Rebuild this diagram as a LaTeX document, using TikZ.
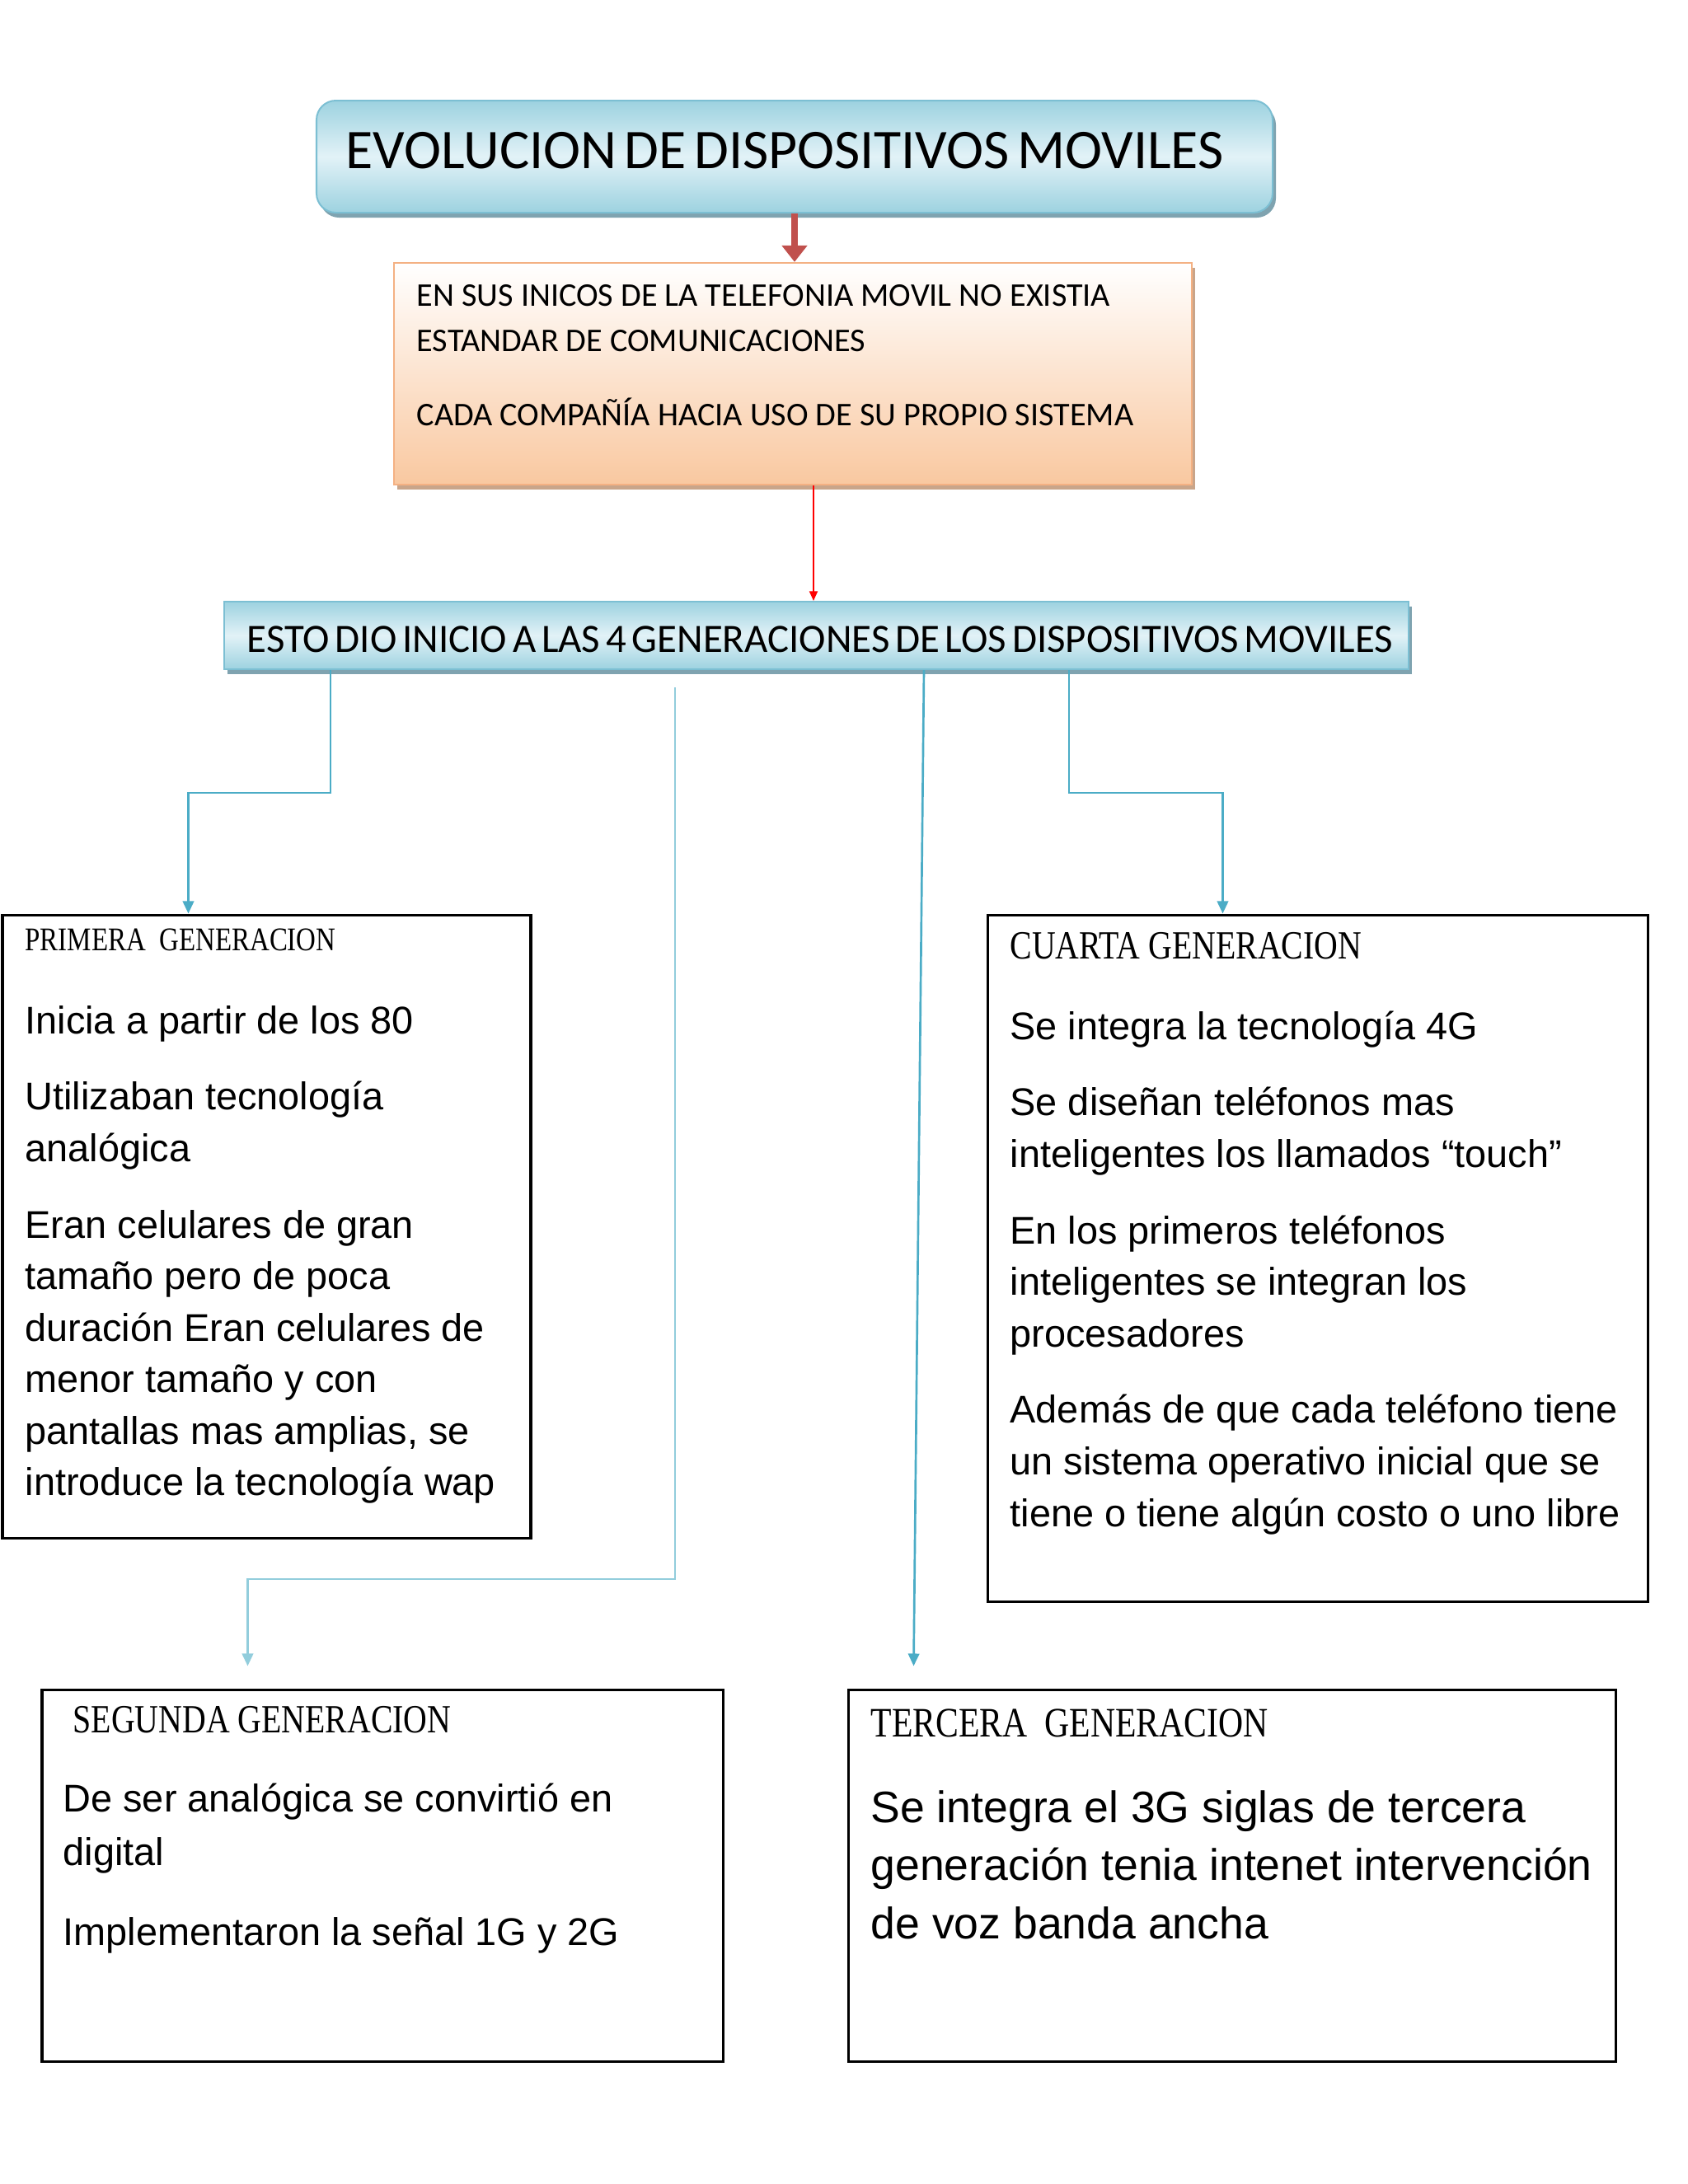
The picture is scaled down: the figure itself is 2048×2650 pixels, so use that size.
\documentclass[tikz,border=0pt]{standalone}
\usepackage{fontspec}
\setmainfont{Liberation Sans}
\newfontfamily\calfont{Carlito}
\newfontfamily\headfont[FakeStretch=0.82]{Liberation Serif}
\usetikzlibrary{shapes,arrows.meta,positioning,fit,calc,shadows}

\definecolor{titleblue}{HTML}{9DD2E0}
\definecolor{paleblue}{HTML}{E2F2F7}
\definecolor{edgeblue}{HTML}{7CBFD3}
\definecolor{shadeblue}{HTML}{7FA3B0}
\definecolor{peach}{HTML}{F9C8A0}
\definecolor{peachedge}{HTML}{F4B183}
\definecolor{shadepeach}{HTML}{C9A58A}
\definecolor{darkred}{HTML}{C0504D}
\definecolor{linkblue}{HTML}{4BACC6}
\definecolor{lightlink}{HTML}{92CDDC}

\begin{document}
\begin{tikzpicture}[x=0.2988pt, y=-0.2988pt,
    bluebox/.style={draw=edgeblue, line width=0.6pt, inner sep=0pt, top color=titleblue, bottom color=titleblue, middle color=paleblue,
      drop shadow={shadow xshift=1.2pt, shadow yshift=-1.8pt, fill=shadeblue, opacity=1}},
    orangebox/.style={draw=peachedge, line width=0.7pt, inner sep=0pt, top color=white, bottom color=peach,
      drop shadow={shadow xshift=1.2pt, shadow yshift=-1.8pt, fill=shadepeach, opacity=1}},
    genbox/.style={draw=black, line width=0.9pt, inner sep=0pt},
    captext/.style={anchor=base west, inner sep=0pt, execute at begin node={\spaceskip=0.14em}},
    bodytext/.style={anchor=base west, inner sep=0pt, text width=12cm, align=left, font=\fontsize{14}{18.7}\selectfont,
      execute at begin node={\spaceskip=0pt \xspaceskip=0pt}},
    headtext/.style={anchor=base west, inner sep=0pt, font=\headfont\fontsize{14.5}{17}\selectfont},
    redarrow/.style={->, >={Triangle[width=9pt, length=6pt]}, darkred, line width=2.2pt},
    thinred/.style={->, >={Triangle[width=3pt, length=3.5pt]}, red, line width=0.6pt},
    genline/.style={->, >={Triangle[width=4pt, length=4.5pt]}, linkblue, line width=0.8pt},
    genline2/.style={genline, lightlink}
  ]
    \useasboundingbox (0,0) rectangle (2048,2650);

    % Title
    \node[bluebox, rounded corners=7pt, fit={(384,122) (1544,258)}] (title) {};
    \node[captext, font=\calfont\fontsize{20.3}{24}\selectfont] (titletxt) at (419,204) {EVOLUCION DE DISPOSITIVOS MOVILES};

    % Origen
    \node[orangebox, fit={(478,319) (1446,588)}] (orange) {};
    \node[bodytext, font=\calfont\fontsize{12}{16.7}\selectfont] (orangetxt) at (505,371)
      {EN SUS INICOS DE LA TELEFONIA MOVIL NO EXISTIA\\ESTANDAR DE COMUNICACIONES\\[10pt]CADA COMPAÑÍA HACIA USO DE SU PROPIO SISTEMA};

    % Generaciones
    \node[bluebox, fit={(272,730) (1709,812)}] (gens) {};
    \node[captext, font=\calfont\fontsize{14.6}{18}\selectfont] (genstxt) at (299,791)
      {ESTO DIO INICIO A LAS 4 GENERACIONES DE LOS DISPOSITIVOS MOVILES};

    % Primera
    \node[genbox, fit={(3,1110) (644,1866)}] (primera) {};
    \node[headtext, font=\headfont\fontsize{12}{14}\selectfont] (primerahead) at (30,1153) {PRIMERA\ \ GENERACION};
    \node[bodytext] (primeratxt) at (30,1254)
      {Inicia a partir de los 80\\[9pt]Utilizaban tecnología\\analógica\\[9pt]Eran celulares de gran\\tamaño pero de poca\\duración Eran celulares de\\menor tamaño y con\\pantallas mas amplias, se\\introduce la tecnología wap};

    % Cuarta
    \node[genbox, fit={(1198,1110) (1999,1943)}] (cuarta) {};
    \node[headtext] (cuartahead) at (1225,1163) {CUARTA GENERACION};
    \node[bodytext] (cuartatxt) at (1225,1261)
      {Se integra la tecnología 4G\\[9pt]Se diseñan teléfonos mas\\inteligentes los llamados “touch”\\[9pt]En los primeros teléfonos\\inteligentes se integran los\\procesadores\\[9pt]Además de que cada teléfono tiene\\un sistema operativo inicial que se\\tiene o tiene algún costo o uno libre};

    % Segunda
    \node[genbox, fit={(51,2050) (877,2501)}] (segunda) {};
    \node[headtext] (segundahead) at (88,2102) {SEGUNDA GENERACION};
    \node[bodytext, font=\fontsize{14}{19.7}\selectfont] (segundatxt) at (76,2198)
      {De ser analógica se convirtió en\\digital\\[9pt]Implementaron la señal 1G y 2G};

    % Tercera
    \node[genbox, fit={(1029,2050) (1960,2501)}] (tercera) {};
    \node[headtext, font=\headfont\fontsize{15.2}{18}\selectfont] (tercerahead) at (1056,2107) {TERCERA\ \ GENERACION};
    \node[bodytext, font=\fontsize{16}{21.2}\selectfont] (terceratxt) at (1056,2211)
      {Se integra el 3G siglas de tercera\\generación tenia intenet intervención\\de voz banda ancha};

    % Arrows
    \draw[redarrow] (title.south) -- (title.south |- orange.north);
    \draw[thinred] ($(orange.south)+(25,0)$) coordinate (r1) -- (r1 |- gens.north);
    \draw[genline] ($(gens.south west)+(130,0)$) -- ++(0,149) -| ($(primera.north west)+(227,0)$);
    \draw[genline2] ($(gens.south west)+(548,21)$) -- ++(0,1082) -| ($(segunda.north west)+(251,-27)$);
    \draw[genline] ($(gens.south west)+(850,0)$) -- ($(tercera.north west)+(81,-27)$);
    \draw[genline] ($(gens.south west)+(1026,0)$) -- ++(0,149) -| ($(cuarta.north west)+(287,0)$);
  \end{tikzpicture}
\end{document}
